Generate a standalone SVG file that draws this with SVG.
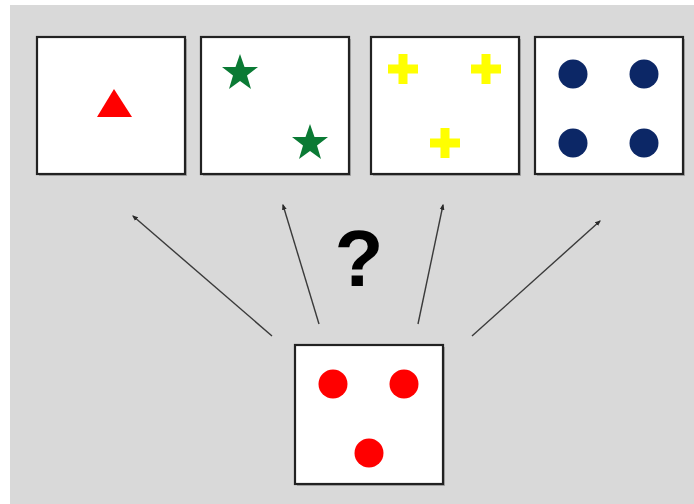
<svg xmlns="http://www.w3.org/2000/svg" width="694" height="504" viewBox="0 0 694 504">
<defs>
<style>
.card{fill:#fff;stroke:#222;stroke-width:2.2}
.shadow{fill:#8a8a8a;opacity:0.6}
.conn{stroke:#3a3a3a;stroke-width:1.4;fill:none;marker-end:url(#ah)}
</style>
<marker id="ah" viewBox="0 0 10 10" refX="8" refY="5" markerWidth="6" markerHeight="6" markerUnits="userSpaceOnUse" orient="auto">
<path d="M0,1 L10,5 L0,9 Z" fill="#2a2a2a"/>
</marker>
<polygon id="star" points="0,-19 4.5,-6 18,-6 7,2.5 11,16 0,8 -11,16 -7,2.5 -18,-6 -4.5,-6"/>
<path id="plus" d="M-4.5,-15 H4.5 V-4.5 H15 V4.5 H4.5 V15 H-4.5 V4.5 H-15 V-4.5 H-4.5 Z"/>
</defs>
<rect x="0" y="0" width="694" height="504" fill="#fff"/>
<rect x="10" y="5" width="684" height="499" fill="#d9d9d9"/>

<g id="card-triangle">
<rect class="shadow" x="39" y="39" width="148" height="137"/>
<rect class="card" x="37" y="37" width="148" height="137"/>
<polygon points="114,89 97,117 132,117" fill="#ff0000"/>
</g>
<g id="card-stars">
<rect class="shadow" x="203" y="39" width="148" height="137"/>
<rect class="card" x="201" y="37" width="148" height="137"/>
<use href="#star" x="240" y="73" fill="#0a7a34"/>
<use href="#star" x="310" y="143" fill="#0a7a34"/>
</g>
<g id="card-crosses">
<rect class="shadow" x="373" y="39" width="148" height="137"/>
<rect class="card" x="371" y="37" width="148" height="137"/>
<use href="#plus" x="403" y="69" fill="#ffff00"/>
<use href="#plus" x="486" y="69" fill="#ffff00"/>
<use href="#plus" x="445" y="143" fill="#ffff00"/>
</g>
<g id="card-dots">
<rect class="shadow" x="537" y="39" width="148" height="137"/>
<rect class="card" x="535" y="37" width="148" height="137"/>
<circle cx="573" cy="74" r="14.5" fill="#0c2766"/>
<circle cx="644" cy="74" r="14.5" fill="#0c2766"/>
<circle cx="573" cy="143" r="14.5" fill="#0c2766"/>
<circle cx="644" cy="143" r="14.5" fill="#0c2766"/>
</g>
<g id="card-source">
<rect class="shadow" x="297" y="347" width="148" height="139"/>
<rect class="card" x="295" y="345" width="148" height="139"/>
<circle cx="333" cy="384" r="14.5" fill="#ff0000"/>
<circle cx="404" cy="384" r="14.5" fill="#ff0000"/>
<circle cx="369" cy="453" r="14.5" fill="#ff0000"/>
</g>
<g id="connectors">
<line class="conn" x1="272" y1="336" x2="133" y2="216"/>
<line class="conn" x1="319" y1="324" x2="283" y2="205"/>
<line class="conn" x1="418" y1="324" x2="443" y2="205"/>
<line class="conn" x1="472" y1="336" x2="600" y2="221"/>
</g>
<g id="question">
<text x="359" y="286" font-family="Liberation Sans, Arial, sans-serif" font-weight="bold" font-size="80" text-anchor="middle" fill="#000">?</text>
</g>
</svg>
